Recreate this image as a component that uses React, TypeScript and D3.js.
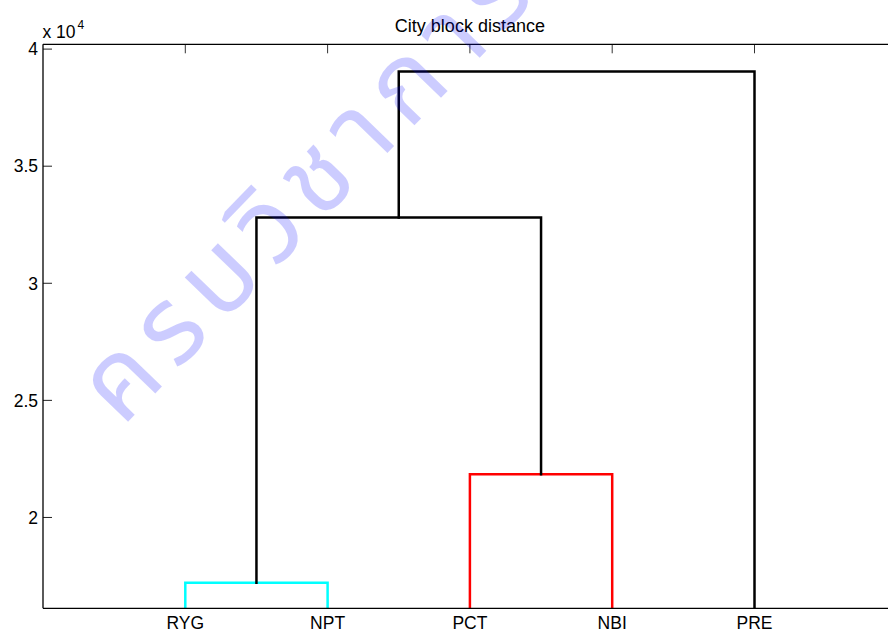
import React from 'react';
import * as d3 from 'd3';

const leafLabels = ['RYG', 'NPT', 'PCT', 'NBI', 'PRE'];
const mergeNames = ['C1', 'C2', 'C3', 'C4'];
const mergeLeft = ['RYG', 'PCT', 'C1', 'C3'];
const mergeRight = ['NPT', 'NBI', 'C2', 'PRE'];
const mergeHeights = [17210, 21850, 32810, 39040];
const mergeColors = ['#00ffff', '#ff0000', '#000000', '#000000'];
const yTicks = [20000, 25000, 30000, 35000, 40000];
const yTickLabels = ['2', '2.5', '3', '3.5', '4'];
const title = 'City block distance';
const watermark = 'ครบวิชาการ';

const W = 888;
const H = 631;
const left = 43;
const right = 896.8;
const top = 44.3;
const bottom = 608.3;
const FONT = '"Liberation Sans", Arial, Helvetica, sans-serif';

export default function App() {
  const x = d3.scaleLinear().domain([0, leafLabels.length + 1]).range([left, right]);
  const y = d3.scaleLinear().domain([16121, 40205]).range([bottom, top]);

  const pos: Record<string, { x: number; h: number }> = {};
  leafLabels.forEach((l, i) => (pos[l] = { x: i + 1, h: 0 }));
  const links: { d: string; color: string }[] = [];
  mergeNames.forEach((n, i) => {
    const a = pos[mergeLeft[i]];
    const b = pos[mergeRight[i]];
    const h = mergeHeights[i];
    pos[n] = { x: (a.x + b.x) / 2, h };
    const p = d3.path();
    p.moveTo(x(a.x), y(a.h));
    p.lineTo(x(a.x), y(h));
    p.lineTo(x(b.x), y(h));
    p.lineTo(x(b.x), y(b.h));
    links.push({ d: p.toString(), color: mergeColors[i] });
  });

  const tickLen = 9;

  return (
    <svg width={W} height={H} style={{ position: 'absolute', left: 0, top: 0, background: '#fff' }}>
      <defs>
        <clipPath id="axclip">
          <rect x={left} y={top} width={right - left} height={bottom - top} />
        </clipPath>
      </defs>
      <rect x={0} y={0} width={W} height={H} fill="#fff" />
      {yTicks.map((t, i) => (
        <g key={'yt' + i}>
          <line x1={left} x2={left + tickLen} y1={y(t)} y2={y(t)} stroke="#222" strokeWidth={1} />
          <text x={left - 5} y={y(t)} dy="0.36em" textAnchor="end" fontFamily={FONT} fontSize={17.5} fill="#000">
            {yTickLabels[i]}
          </text>
        </g>
      ))}
      {leafLabels.map((l, i) => (
        <g key={'xt' + i}>
          <line x1={x(i + 1)} x2={x(i + 1)} y1={top} y2={top + tickLen} stroke="#333" strokeWidth={1} />
          <line x1={x(i + 1)} x2={x(i + 1)} y1={bottom} y2={bottom - tickLen} stroke="#333" strokeWidth={1} />
          <text x={x(i + 1)} y={628.5} textAnchor="middle" fontFamily={FONT} fontSize={17.5} fill="#000">
            {l}
          </text>
        </g>
      ))}
      <g clipPath="url(#axclip)">
        {links.map((lk, i) => (
          <path key={'lk' + i} d={lk.d} fill="none" stroke={lk.color} strokeWidth={2.5} strokeLinejoin="miter" strokeLinecap="square" />
        ))}
      </g>
      <line x1={left} x2={left} y1={top} y2={bottom} stroke="#000" strokeWidth={1.3} />
      <line x1={left} x2={right} y1={top} y2={top} stroke="#000" strokeWidth={1.3} />
      <line x1={left} x2={right} y1={bottom} y2={bottom} stroke="#000" strokeWidth={1.3} />
      <text x={42.5} y={38.3} fontFamily={FONT} fontSize={17.5} fill="#000">x 10</text>
      <text x={77.5} y={29} fontFamily={FONT} fontSize={12} fill="#000">4</text>
      <text x={(left + right) / 2} y={32.3} textAnchor="middle" fontFamily={FONT} fontSize={18} fill="#000">
        {title}
      </text>
      <text
        transform="translate(122,428) rotate(-46)"
        fontFamily={'"Noto Sans Thai", "Noto Sans", "DejaVu Sans", sans-serif'}
        fontSize={108}
        letterSpacing={12}
        fill="#0000ff"
        fillOpacity={0.2}
      >
        {watermark}
      </text>
    </svg>
  );
}
